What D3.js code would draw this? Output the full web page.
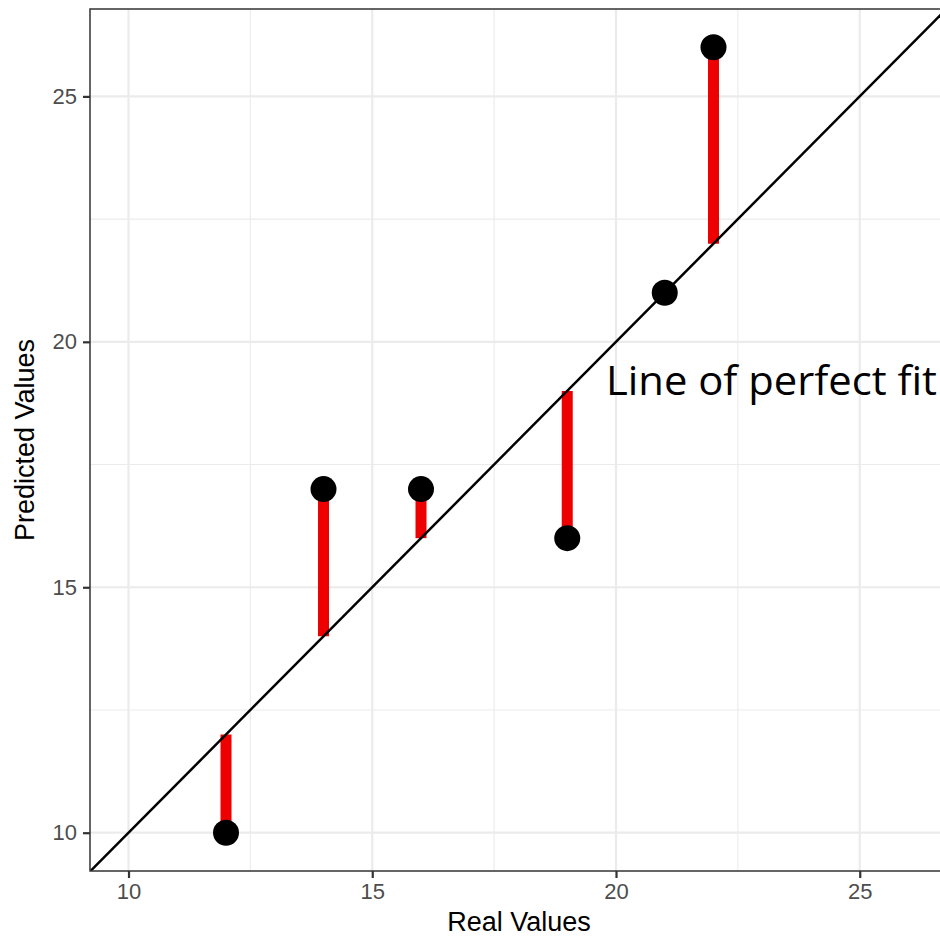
<!DOCTYPE html>
<html>
<head>
<meta charset="UTF-8">
<script src="https://d3js.org/d3.v7.min.js"></script>
<style>
  body { margin: 0; background: #fff; }
  .tick text { font-family: "Liberation Sans", Arial, sans-serif; font-size: 22px; fill: #4d4d4d; }
  .title { font-family: "Liberation Sans", Arial, sans-serif; font-size: 27px; fill: #000; }
</style>
</head>
<body>
<div id="chart"></div>
<script>
  // data
  const realValues = [12, 14, 16, 19, 21, 22];
  const predictedValues = [10, 17, 17, 16, 21, 26];
  const majorTicks = [10, 15, 20, 25];
  const minorTicks = [12.5, 17.5, 22.5];
  const xLim = [9.21, 26.79];
  const yLim = [9.22, 26.78];

  const W = 940, H = 938;
  const panel = {left: 90, top: 9, right: 947, bottom: 871};

  const svg = d3.select("#chart").append("svg")
    .attr("width", W).attr("height", H);

  const x = d3.scaleLinear().domain(xLim).range([panel.left, panel.right]);
  const y = d3.scaleLinear().domain(yLim).range([panel.bottom, panel.top]);

  const points = realValues.map((r, i) => ({r, p: predictedValues[i]}));

  svg.append("defs").append("clipPath").attr("id", "clip")
    .append("rect")
    .attr("x", panel.left).attr("y", panel.top)
    .attr("width", panel.right - panel.left).attr("height", panel.bottom - panel.top);

  const g = svg.append("g").attr("clip-path", "url(#clip)");

  // grid
  g.selectAll(".vminor").data(minorTicks).enter().append("line")
    .attr("x1", d => x(d)).attr("x2", d => x(d))
    .attr("y1", panel.top).attr("y2", panel.bottom)
    .attr("stroke", "#ebebeb").attr("stroke-width", 1.1);
  g.selectAll(".hminor").data(minorTicks).enter().append("line")
    .attr("y1", d => y(d)).attr("y2", d => y(d))
    .attr("x1", panel.left).attr("x2", panel.right)
    .attr("stroke", "#ebebeb").attr("stroke-width", 1.1);
  g.selectAll(".vmajor").data(majorTicks).enter().append("line")
    .attr("x1", d => x(d)).attr("x2", d => x(d))
    .attr("y1", panel.top).attr("y2", panel.bottom)
    .attr("stroke", "#ebebeb").attr("stroke-width", 2.2);
  g.selectAll(".hmajor").data(majorTicks).enter().append("line")
    .attr("y1", d => y(d)).attr("y2", d => y(d))
    .attr("x1", panel.left).attr("x2", panel.right)
    .attr("stroke", "#ebebeb").attr("stroke-width", 2.2);

  // residual segments
  g.selectAll(".seg").data(points).enter().append("line")
    .attr("x1", d => x(d.r)).attr("x2", d => x(d.r))
    .attr("y1", d => y(d.r)).attr("y2", d => y(d.p))
    .attr("stroke", "#ee0000").attr("stroke-width", 11);

  // line of perfect fit
  g.append("line")
    .attr("x1", x(xLim[0])).attr("y1", y(xLim[0]))
    .attr("x2", x(xLim[1])).attr("y2", y(xLim[1]))
    .attr("stroke", "#000").attr("stroke-width", 2.5);

  // points
  g.selectAll(".pt").data(points).enter().append("circle")
    .attr("cx", d => x(d.r)).attr("cy", d => y(d.p))
    .attr("r", 13).attr("fill", "#000");

  // panel border
  svg.append("rect")
    .attr("x", panel.left).attr("y", panel.top)
    .attr("width", panel.right - panel.left).attr("height", panel.bottom - panel.top)
    .attr("fill", "none").attr("stroke", "#333").attr("stroke-width", 1.5);

  // axes
  const xAxis = svg.append("g")
    .attr("transform", `translate(0,${panel.bottom})`)
    .call(d3.axisBottom(x).tickValues(majorTicks).tickSize(7).tickPadding(5));
  const yAxis = svg.append("g")
    .attr("transform", `translate(${panel.left},0)`)
    .call(d3.axisLeft(y).tickValues(majorTicks).tickSize(7).tickPadding(6));
  [xAxis, yAxis].forEach(a => {
    a.select(".domain").remove();
    a.selectAll(".tick line").attr("stroke", "#333").attr("stroke-width", 2.2);
  });

  // annotation
  svg.append("text")
    .attr("x", 606).attr("y", 395)
    .attr("font-family", "'Open Sans', 'Noto Sans', sans-serif")
    .attr("font-size", 41)
    .attr("textLength", 331).attr("lengthAdjust", "spacingAndGlyphs")
    .attr("fill", "#000")
    .text("Line of perfect fit");

  // titles
  svg.append("text").attr("class", "title")
    .attr("x", 519).attr("y", 931)
    .attr("text-anchor", "middle")
    .text("Real Values");
  svg.append("text").attr("class", "title")
    .attr("transform", `translate(34,${(panel.top + panel.bottom) / 2}) rotate(-90)`)
    .attr("text-anchor", "middle")
    .text("Predicted Values");
</script>
</body>
</html>
